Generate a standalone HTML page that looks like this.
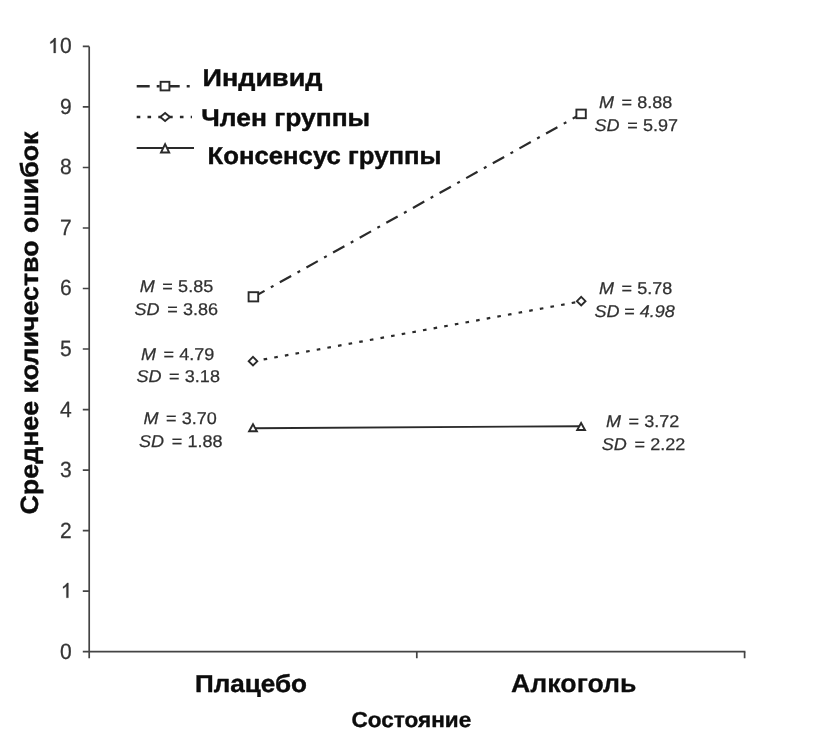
<!DOCTYPE html>
<html lang="ru">
<head>
<meta charset="utf-8">
<title>Среднее количество ошибок</title>
<style>
  html, body { margin: 0; padding: 0; background: #ffffff; }
  body { width: 824px; height: 739px; overflow: hidden; font-family: "Liberation Sans", sans-serif; }
  svg { display: block; will-change: transform; opacity: 0.9999; }
  text { font-family: "Liberation Sans", sans-serif; text-rendering: geometricPrecision; }
  .tick { text-rendering: geometricPrecision; font-size: 22px; fill: #353535; stroke: #353535; stroke-width: 0.25; text-anchor: end; }
  .ann { font-size: 17px; fill: #303030; stroke: #303030; stroke-width: 0.25; }
  .it { font-style: italic; }
  .bold { font-weight: bold; fill: #0c0c0c; stroke: #0c0c0c; stroke-width: 0.4; stroke-linejoin: round; }
  .lightstroke { stroke-width: 0.25; }
  .axis { stroke: #444444; stroke-width: 1.7; fill: none; }
  .ser { stroke: #2a2a2a; fill: none; }
  .mk { stroke: #2a2a2a; stroke-width: 1.9; fill: #ffffff; }
</style>
</head>
<body>
<svg width="824" height="739" viewBox="0 0 824 739">
  <rect x="0" y="0" width="824" height="739" fill="#ffffff"/>

  <!-- axes -->
  <g class="axis">
    <path d="M89.2 46.4 V658.2"/>
    <path d="M82.8 651.7 H745.4"/>
    <path d="M82.8 46.4 H89.2 M82.8 106.9 H89.2 M82.8 167.5 H89.2 M82.8 228 H89.2 M82.8 288.5 H89.2 M82.8 349 H89.2 M82.8 409.6 H89.2 M82.8 470.1 H89.2 M82.8 530.6 H89.2 M82.8 591.2 H89.2"/>
    <path d="M416.8 651.7 V658.2 M744.6 651.7 V658.2"/>
  </g>

  <!-- y tick labels -->
  <g class="tick" transform="translate(71.6 0) scale(0.955 1)">
    <text x="0" y="53.3"><tspan style="fill:none;stroke:none">1</tspan>0</text>
    <text x="0" y="113.8">9</text>
    <text x="0" y="174.4">8</text>
    <text x="0" y="234.9">7</text>
    <text x="0" y="295.4">6</text>
    <text x="0" y="355.9">5</text>
    <text x="0" y="416.5">4</text>
    <text x="0" y="477.0">3</text>
    <text x="0" y="537.5">2</text>
    <text x="0" y="598.1" style="fill:none;stroke:none">1</text>
    <text x="0" y="658.6">0</text>
  </g>

  <g fill="#353535" stroke="#353535" stroke-width="0.25">
    <path transform="translate(55.7 53)" d="M0 0 H-2 V-11.6 C-3.1 -10.5 -4.2 -9.8 -5.4 -9.3 V-11.1 C-3.6 -12 -2.2 -13.4 -1.3 -14.9 H0 Z"/>
    <path transform="translate(68.4 597.8)" d="M0 0 H-2 V-11.6 C-3.1 -10.5 -4.2 -9.8 -5.4 -9.3 V-11.1 C-3.6 -12 -2.2 -13.4 -1.3 -14.9 H0 Z"/>
  </g>

  <!-- series lines -->
  <path class="ser" d="M253.2 297.2 L581 114" stroke-width="2.2" stroke-dasharray="13 7.25 3 7.25"/>
  <path class="ser" d="M253 361.4 L581.2 301.3" stroke-width="2.2" stroke-dasharray="3.6 7.2"/>
  <path class="ser" d="M253 428.2 L581 426.2" stroke-width="1.9"/>

  <!-- markers -->
  <g class="mk">
    <rect x="248.6" y="292.2" width="9.6" height="9.2"/>
    <rect x="576.4" y="109.6" width="9.4" height="8.6"/>
    <path d="M253 356.9 L257.3 361.2 L253 365.5 L248.7 361.2 Z"/>
    <path d="M581.2 296.9 L585.5 301.2 L581.2 305.5 L576.9 301.2 Z"/>
    <path d="M253 424.3 L256.9 431.2 L249.1 431.2 Z"/>
    <path d="M581.1 423 L585 430 L577.2 430 Z"/>
  </g>

  <!-- legend -->
  <path class="ser" d="M136.7 86.2 H191" stroke-width="2.6" stroke-dasharray="13 7 3 7"/>
  <path class="ser" d="M136.7 117 H192" stroke-width="2.6" stroke-dasharray="3.6 7.2"/>
  <path class="ser" d="M136.7 148 H194" stroke-width="2"/>
  <g class="mk">
    <rect x="160.6" y="81.8" width="8.8" height="8.6"/>
    <path d="M165.1 113 L169.9 117 L165.1 121 L160.3 117 Z"/>
    <path d="M165.1 144.2 L169.2 152.5 L161 152.5 Z"/>
  </g>
  <g class="bold" font-size="24.5">
    <text x="202.5" y="86.4" textLength="120" lengthAdjust="spacingAndGlyphs">Индивид</text>
    <text x="201.2" y="126" textLength="169" lengthAdjust="spacingAndGlyphs">Член группы</text>
    <text x="207.5" y="164.2" textLength="234" lengthAdjust="spacingAndGlyphs">Консенсус группы</text>
  </g>

  <!-- annotations -->
  <g class="ann">
    <text transform="translate(139.8 292.1) scale(1.06 1)"><tspan class="it">M</tspan><tspan dx="2.4"> =</tspan><tspan dx="0.2"> 5.85</tspan></text>
    <text transform="translate(134.6 315.3) scale(1.06 1)"><tspan class="it">SD</tspan><tspan dx="2.4"> =</tspan><tspan dx="0.2"> 3.86</tspan></text>
    <text transform="translate(141.0 359.7) scale(1.06 1)"><tspan class="it">M</tspan><tspan dx="2.4"> =</tspan><tspan dx="0.2"> 4.79</tspan></text>
    <text transform="translate(136.5 382.1) scale(1.06 1)"><tspan class="it">SD</tspan><tspan dx="2.4"> =</tspan><tspan dx="0.2"> 3.18</tspan></text>
    <text transform="translate(143.5 423.5) scale(1.06 1)"><tspan class="it">M</tspan><tspan dx="2.4"> =</tspan><tspan dx="0.2"> 3.70</tspan></text>
    <text transform="translate(139.1 446.8) scale(1.06 1)"><tspan class="it">SD</tspan><tspan dx="2.4"> =</tspan><tspan dx="0.2"> 1.88</tspan></text>
    <text transform="translate(598.9 107.7) scale(1.06 1)"><tspan class="it">M</tspan><tspan dx="2.4"> =</tspan><tspan dx="0.2"> 8.88</tspan></text>
    <text transform="translate(594.6 130.5) scale(1.06 1)"><tspan class="it">SD</tspan><tspan dx="2.4"> =</tspan><tspan dx="0.2"> 5.97</tspan></text>
    <text transform="translate(598.9 294.4) scale(1.06 1)"><tspan class="it">M</tspan><tspan dx="2.4"> =</tspan><tspan dx="0.2"> 5.78</tspan></text>
    <text transform="translate(594.6 317.3) scale(1.06 1)" class="it"><tspan class="it">SD</tspan><tspan dx="-0.6"> =</tspan><tspan dx="0.2"> 4.98</tspan></text>
    <text transform="translate(606.0 426.8) scale(1.06 1)"><tspan class="it">M</tspan><tspan dx="2.4"> =</tspan><tspan dx="0.2"> 3.72</tspan></text>
    <text transform="translate(601.8 449.7) scale(1.06 1)"><tspan class="it">SD</tspan><tspan dx="2.4"> =</tspan><tspan dx="0.2"> 2.22</tspan></text>
  </g>

  <!-- category labels -->
  <g class="bold">
    <text x="195" y="691.7" font-size="24.5" textLength="112" lengthAdjust="spacingAndGlyphs">Плацебо</text>
    <text class="lightstroke" x="511" y="692.2" font-size="25.6" textLength="125.5" lengthAdjust="spacingAndGlyphs">Алкоголь</text>
    <text x="351.6" y="726.6" font-size="21.6" textLength="119.6" lengthAdjust="spacingAndGlyphs">Состояние</text>
    <text transform="translate(38.4 514.5) rotate(-90)" font-size="25" textLength="383" lengthAdjust="spacingAndGlyphs">Среднее количество ошибок</text>
  </g>
</svg>
</body>
</html>
